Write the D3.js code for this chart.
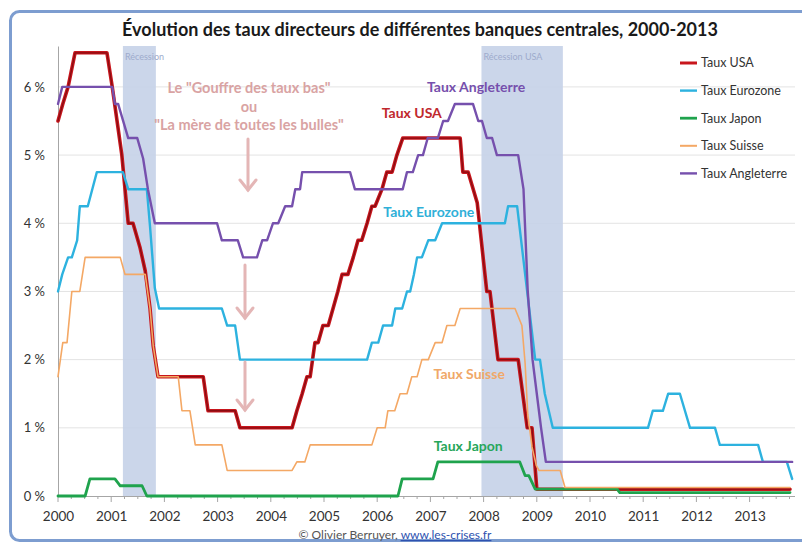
<!DOCTYPE html>
<html><head><meta charset="utf-8">
<script src="https://cdn.jsdelivr.net/npm/d3@7"></script>
<style>
html,body{margin:0;padding:0;background:#fff;}
svg{display:block;font-family:Lato,"Open Sans",sans-serif;}
</style></head>
<body>
<svg id="chart" width="802" height="544"></svg>
<script>
// ---- data (decimal year, rate %) ----
const seriesNames = ["Taux USA","Taux Eurozone","Taux Japon","Taux Suisse","Taux Angleterre"];
const usa = [[2000.00,5.5],[2000.09,5.75],[2000.19,6.0],[2000.32,6.5],[2000.92,6.5],[2001.02,6.0],[2001.11,5.5],[2001.20,5.0],[2001.32,4.0],[2001.41,4.0],[2001.54,3.65],[2001.64,3.3],[2001.73,2.75],[2001.79,2.2],[2001.88,1.75],[2002.73,1.75],[2002.82,1.25],[2003.33,1.25],[2003.42,1.0],[2004.40,1.0],[2004.49,1.25],[2004.59,1.5],[2004.68,1.75],[2004.74,1.75],[2004.83,2.25],[2004.89,2.25],[2004.98,2.5],[2005.08,2.5],[2005.17,2.75],[2005.26,3.0],[2005.34,3.25],[2005.45,3.25],[2005.55,3.5],[2005.64,3.75],[2005.71,3.75],[2005.81,4.0],[2005.90,4.25],[2005.96,4.25],[2006.09,4.5],[2006.18,4.75],[2006.28,4.75],[2006.37,5.0],[2006.48,5.25],[2007.56,5.25],[2007.61,4.75],[2007.71,4.75],[2007.88,4.3],[2008.06,3.0],[2008.12,3.0],[2008.27,2.0],[2008.65,2.0],[2008.82,1.0],[2008.91,1.0],[2009.00,0.1],[2013.76,0.1]];
const eurozone = [[2000.00,3.0],[2000.08,3.25],[2000.19,3.5],[2000.26,3.5],[2000.36,3.75],[2000.41,4.25],[2000.56,4.25],[2000.73,4.75],[2001.22,4.75],[2001.32,4.5],[2001.67,4.5],[2001.73,3.95],[2001.82,3.05],[2001.90,2.75],[2003.08,2.75],[2003.18,2.5],[2003.33,2.5],[2003.42,2.0],[2005.81,2.0],[2005.90,2.25],[2006.02,2.25],[2006.11,2.5],[2006.28,2.5],[2006.34,2.75],[2006.47,2.75],[2006.56,3.0],[2006.62,3.0],[2006.69,3.25],[2006.75,3.5],[2006.84,3.5],[2006.96,3.75],[2007.09,3.75],[2007.22,4.0],[2008.40,4.0],[2008.46,4.25],[2008.63,4.25],[2008.97,2.0],[2009.06,2.0],[2009.15,1.5],[2009.30,1.0],[2011.09,1.0],[2011.18,1.25],[2011.37,1.25],[2011.47,1.5],[2011.69,1.5],[2011.88,1.0],[2012.35,1.0],[2012.44,0.75],[2013.16,0.75],[2013.25,0.5],[2013.70,0.5],[2013.80,0.25]];
const japon = [[2000.00,0],[2000.51,0],[2000.60,0.25],[2001.07,0.25],[2001.17,0.15],[2001.58,0.15],[2001.67,0],[2006.39,0],[2006.47,0.25],[2007.05,0.25],[2007.14,0.5],[2008.68,0.5],[2008.78,0.3],[2008.85,0.3],[2008.97,0.1],[2010.51,0.1],[2010.56,0.05],[2013.76,0.05]];
const suisse = [[2000.00,1.75],[2000.09,2.25],[2000.17,2.25],[2000.26,3.0],[2000.41,3.0],[2000.51,3.5],[2001.17,3.5],[2001.26,3.25],[2001.54,3.25],[2001.64,3.25],[2001.73,2.75],[2001.79,2.2],[2001.88,1.75],[2002.26,1.75],[2002.33,1.25],[2002.48,1.25],[2002.58,0.75],[2003.08,0.75],[2003.18,0.375],[2004.40,0.375],[2004.49,0.5],[2004.64,0.5],[2004.74,0.75],[2005.90,0.75],[2006.00,1.0],[2006.15,1.0],[2006.20,1.25],[2006.33,1.25],[2006.43,1.5],[2006.56,1.5],[2006.65,1.75],[2006.75,1.75],[2006.84,2.0],[2006.96,2.0],[2007.09,2.25],[2007.22,2.25],[2007.31,2.5],[2007.46,2.5],[2007.56,2.75],[2008.59,2.75],[2008.72,2.5],[2008.78,1.95],[2008.83,1.2],[2008.91,0.72],[2008.99,0.45],[2009.04,0.375],[2009.44,0.375],[2009.53,0.125],[2013.76,0.125]];
const angleterre = [[2000.00,5.75],[2000.08,6.0],[2001.02,6.0],[2001.07,5.75],[2001.13,5.75],[2001.32,5.25],[2001.49,5.25],[2001.60,4.95],[2001.69,4.5],[2001.82,4.0],[2002.99,4.0],[2003.08,3.75],[2003.38,3.75],[2003.48,3.5],[2003.74,3.5],[2003.84,3.75],[2003.93,3.75],[2004.04,4.0],[2004.14,4.0],[2004.27,4.25],[2004.40,4.25],[2004.46,4.5],[2004.55,4.5],[2004.59,4.75],[2005.49,4.75],[2005.58,4.5],[2006.48,4.5],[2006.56,4.75],[2006.67,4.75],[2006.77,5.0],[2006.86,5.0],[2006.95,5.25],[2007.14,5.25],[2007.24,5.5],[2007.33,5.5],[2007.46,5.75],[2007.80,5.75],[2007.90,5.5],[2007.97,5.5],[2008.06,5.25],[2008.16,5.25],[2008.25,5.0],[2008.65,5.0],[2008.75,4.5],[2008.83,3.0],[2008.92,2.0],[2009.00,1.5],[2009.08,1.0],[2009.17,0.5],[2013.80,0.5]];
const recessions = [{label:"Récession", start:2001.22, end:2001.84},{label:"Récession USA", start:2007.96, end:2009.49}];
const yTicks = [0,1,2,3,4,5,6];
const xTickYears = [2000,2001,2002,2003,2004,2005,2006,2007,2008,2009,2010,2011,2012,2013];
const title = "Évolution des taux directeurs de différentes banques centrales, 2000-2013";
const annotation = ["Le \"Gouffre des taux bas\"","ou","\"La mère de toutes les bulles\""];

// ---- styles ----
const colors = {"Taux USA":"#c8161d","Taux Eurozone":"#2db2df","Taux Japon":"#1fa34d","Taux Suisse":"#f4a865","Taux Angleterre":"#7650ad"};
const widths = {"Taux USA":3.6,"Taux Eurozone":2.4,"Taux Japon":2.8,"Taux Suisse":1.6,"Taux Angleterre":2.4};
const seriesData = {"Taux USA":usa,"Taux Eurozone":eurozone,"Taux Japon":japon,"Taux Suisse":suisse,"Taux Angleterre":angleterre};

const svg = d3.select("#chart");
const m = {left:58, right:795, top:46, bottom:496};
const x = d3.scaleLinear().domain([2000, 2013.85]).range([m.left, m.left + 13.85*53.2]);
const y = d3.scaleLinear().domain([0, 6.6]).range([m.bottom, m.top]);

// frame
svg.append("rect").attr("x",10.5).attr("y",11.5).attr("width",820).attr("height",529)
  .attr("rx",9).attr("fill","#fff").attr("stroke","#7d9dd0").attr("stroke-width",3);

// title
svg.append("text").attr("x",420).attr("y",36).attr("text-anchor","middle")
  .attr("font-size",18).attr("font-weight","bold").attr("fill","#1a1a1a").text(title);

// gridlines
svg.append("g").selectAll("line").data(yTicks.filter(d=>d>0)).join("line")
  .attr("x1",m.left).attr("x2",m.right).attr("y1",d=>y(d)).attr("y2",d=>y(d))
  .attr("stroke","#e3e3e3").attr("stroke-width",1);

// recession bands
const rg = svg.append("g");
rg.selectAll("rect").data(recessions).join("rect")
  .attr("x",d=>x(d.start)).attr("width",d=>x(d.end)-x(d.start))
  .attr("y",m.top).attr("height",m.bottom-m.top)
  .attr("fill","#c5d2e8").attr("opacity",0.9);
rg.selectAll("text").data(recessions).join("text")
  .attr("x",d=>x(d.start)+2).attr("y",m.top+14)
  .attr("font-size",9).attr("fill","#9eabcc").text(d=>d.label);

// y axis
const yAxis = d3.axisLeft(y).tickValues(yTicks).tickSize(0).tickPadding(13).tickFormat(d=>d+" %");
const ya = svg.append("g").attr("transform",`translate(${m.left},0)`).call(yAxis);
ya.select(".domain").attr("stroke","#a6a6a6");
ya.selectAll("text").attr("font-family","Lato,sans-serif").attr("font-size",13).attr("fill","#333");

// x axis minor ticks
const minor = d3.range(2000, 2013.8, 0.25);
svg.append("g").selectAll("line").data(minor).join("line")
  .attr("x1",d=>x(d)).attr("x2",d=>x(d)).attr("y1",m.bottom).attr("y2",d=>m.bottom+(Number.isInteger(d)?6:3))
  .attr("stroke","#a6a6a6");
const xAxis = d3.axisBottom(x).tickValues(xTickYears).tickSize(0).tickPadding(15).tickFormat(d3.format("d"));
const xa = svg.append("g").attr("transform",`translate(0,${m.bottom})`).call(xAxis);
xa.select(".domain").attr("stroke","#a6a6a6").attr("d",`M${m.left},0.5H${m.right}`);
xa.selectAll("text").attr("font-family","Lato,sans-serif").attr("font-size",13.5).attr("fill","#333");

// lines
const line = d3.line().x(d=>x(d[0])).y(d=>y(d[1]));
const lg = svg.append("g").attr("fill","none").attr("stroke-linejoin","round").attr("stroke-linecap","round");
seriesNames.forEach(n=>{
  lg.append("path").attr("d",line(seriesData[n])).attr("stroke",colors[n]).attr("stroke-width",widths[n]);
  if(n==="Taux USA"){
    lg.append("path").attr("d",line(seriesData[n])).attr("stroke","#8a0d12").attr("stroke-width",1.3);
  }
});

// in-plot labels (centre positions)
const labels = [
  {t:"Taux Angleterre", x:2007.86, y:6.0, c:"#7650ad"},
  {t:"Taux USA", x:2006.65, y:5.62, c:"#c0282d"},
  {t:"Taux Eurozone", x:2006.97, y:4.16, c:"#2fb0d8"},
  {t:"Taux Suisse", x:2007.73, y:1.79, c:"#f0a868"},
  {t:"Taux Japon", x:2007.71, y:0.73, c:"#27a65a"}
];
svg.append("g").selectAll("text").data(labels).join("text")
  .attr("x",d=>x(d.x)).attr("y",d=>y(d.y)).attr("dy","0.35em").attr("text-anchor","middle")
  .attr("font-size",14).attr("font-weight","bold").attr("fill",d=>d.c).text(d=>d.t);

// annotation
svg.append("g").selectAll("text").data(annotation).join("text")
  .attr("x",249).attr("y",(d,i)=>93+i*18.5).attr("text-anchor","middle")
  .attr("font-size",14.5).attr("font-weight","bold").attr("fill","#d9a3a3").text(d=>d);
const arrows = [[248,139,190],[245,265,318],[245,362,410]];
const ag = svg.append("g").attr("stroke","#e4b6b6").attr("stroke-width",3).attr("fill","none").attr("stroke-linecap","round");
arrows.forEach(a=>{
  ag.append("line").attr("x1",a[0]).attr("x2",a[0]).attr("y1",a[1]).attr("y2",a[2]);
  ag.append("path").attr("d",`M${a[0]-8},${a[2]-10}L${a[0]},${a[2]}L${a[0]+8},${a[2]-10}`);
});

// legend
const leg = svg.append("g").attr("transform","translate(680,63)");
seriesNames.forEach((n,i)=>{
  const g = leg.append("g").attr("transform",`translate(0,${i*27.6})`);
  g.append("line").attr("x1",0).attr("x2",17).attr("stroke",colors[n]).attr("stroke-width",n==="Taux USA"?3:Math.max(widths[n],2));
  g.append("text").attr("x",21).attr("dy","0.35em").attr("font-size",12.5).attr("fill","#333").text(n);
});

// credit
const cr = svg.append("text").attr("x",395).attr("y",539).attr("text-anchor","middle").attr("font-size",12);
cr.append("tspan").attr("fill","#555").text("© Olivier Berruyer, ");
cr.append("tspan").attr("fill","#2e52b0").attr("text-decoration","underline").text("www.les-crises.fr");
</script>
</body></html>
